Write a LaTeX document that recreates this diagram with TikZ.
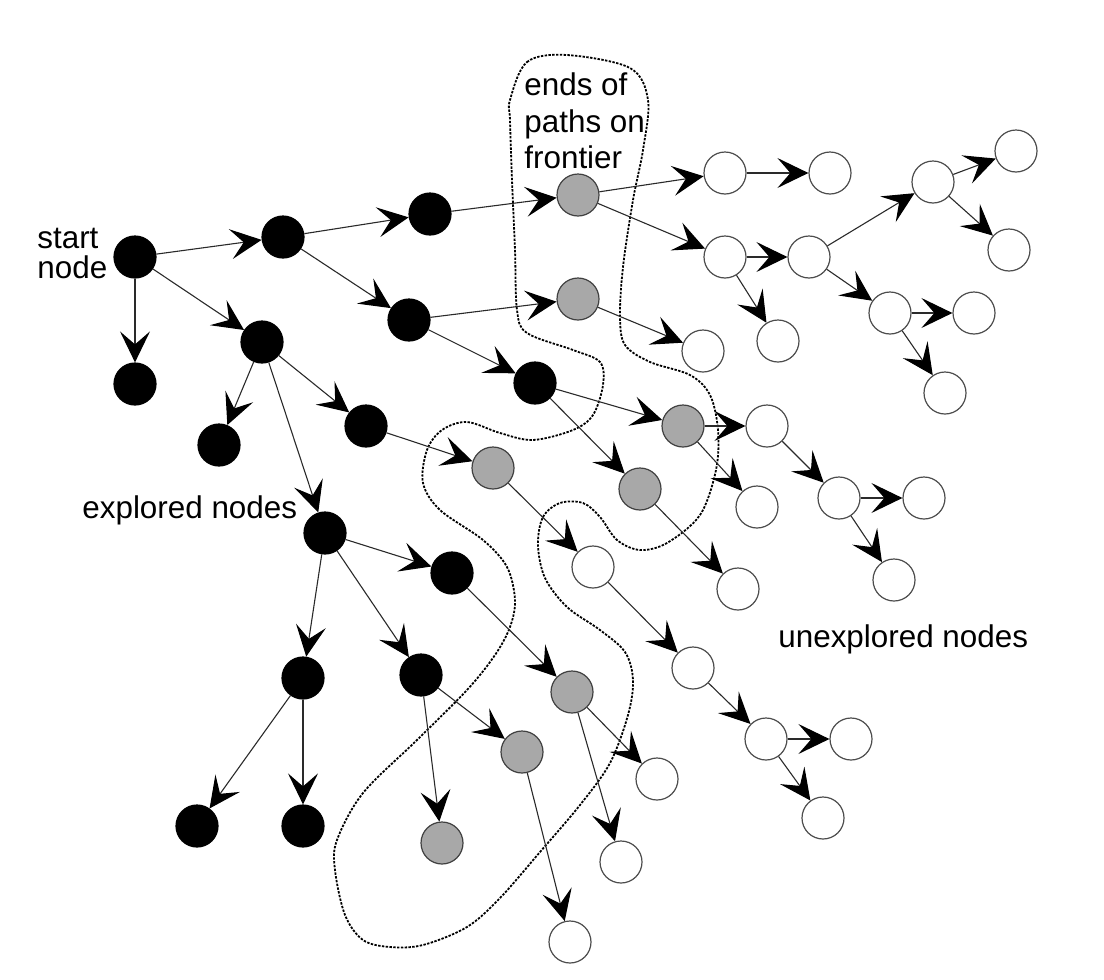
\documentclass[tikz,border=0pt]{standalone}
\usepackage{fontspec}
\setmainfont{Liberation Sans}
\usetikzlibrary{arrows.meta}
\definecolor{frontgray}{HTML}{A8A8A8}
\definecolor{edgecol}{HTML}{2A2A2A}
\tikzset{
  base node/.style={circle, minimum size=21pt, inner sep=0pt, line width=0.6pt},
  expl/.style={base node, draw=black, fill=black},
  front/.style={base node, draw=black!75, fill=frontgray},
  unexp/.style={base node, draw=black!70, fill=white},
  link/.style={draw=edgecol, line width=0.55pt, -{Stealth[length=15.5pt, width=15pt, inset=6.5pt, color=black]}},
  lbl/.style={anchor=base west, inner sep=0pt, font=\fontsize{15.7}{18}\selectfont},
  frontier line/.style={draw=black, line width=0.9pt, dash pattern=on 1.2pt off 0.7pt}
}
\begin{document}
\begin{tikzpicture}[x=0.5pt,y=-0.5pt]
\useasboundingbox (0,0) rectangle (1104,980);

% frontier outline
\draw[frontier line] plot[smooth cycle, tension=0.55] coordinates {
 (510,100) (527,62) (567,55) (630,68) (648,100) (643,150) (633,200) (623,267)
 (620,317) (625,345) (650,362) (690,375) (710,395) (718,430) (716,470) (700,515)
 (667,543) (640,550) (617,540) (600,517) (583,503) (560,503) (543,517) (538,545)
 (545,578) (567,607) (600,630) (625,652) (633,680) (628,715) (610,763) (580,805)
 (540,852) (500,898) (467,927) (423,945) (390,947) (363,940) (345,915) (335,870)
 (337,840) (363,793) (417,740) (467,690) (495,655) (510,627) (515,600) (507,567)
 (483,540) (440,510) (423,483) (427,450) (442,430) (467,422) (500,433) (533,440)
 (573,430) (593,415) (603,385) (600,362) (573,350) (527,333) (517,310) (515,250)
 (512,180) (510,120)};

% explored nodes
\node[expl] (S) at (135,257) {};
\node[expl] (A) at (283,237) {};
\node[expl] (B) at (135,384) {};
\node[expl] (C) at (262,342) {};
\node[expl] (D) at (430,214) {};
\node[expl] (E) at (409,320) {};
\node[expl] (F) at (535,383) {};
\node[expl] (G) at (219,445) {};
\node[expl] (H) at (366,426) {};
\node[expl] (I) at (325,533) {};
\node[expl] (J) at (452,573) {};
\node[expl] (K) at (303,678) {};
\node[expl] (L) at (421,675) {};
\node[expl] (M) at (197,826) {};
\node[expl] (N) at (303,826) {};

% frontier nodes
\node[front] (G1) at (578,195) {};
\node[front] (G2) at (578,299) {};
\node[front] (G3) at (683,426) {};
\node[front] (G4) at (493,468) {};
\node[front] (G5) at (640,489) {};
\node[front] (G6) at (572,692) {};
\node[front] (G7) at (522,752) {};
\node[front] (G8) at (442,843) {};

% unexplored nodes
\node[unexp] (W1) at (725,173) {};
\node[unexp] (W2) at (830,173) {};
\node[unexp] (W3) at (725,257) {};
\node[unexp] (W4) at (809,257) {};
\node[unexp] (W5) at (933,182) {};
\node[unexp] (W6) at (1016,151) {};
\node[unexp] (W7) at (1009,250) {};
\node[unexp] (W8) at (890,313) {};
\node[unexp] (W9) at (974,313) {};
\node[unexp] (W10) at (945,393) {};
\node[unexp] (W11) at (778,341) {};
\node[unexp] (W12) at (703,351) {};
\node[unexp] (W13) at (767,426) {};
\node[unexp] (W14) at (757,507) {};
\node[unexp] (W15) at (839,498) {};
\node[unexp] (W16) at (924,498) {};
\node[unexp] (W17) at (894,580) {};
\node[unexp] (W18) at (593,567) {};
\node[unexp] (W19) at (738,589) {};
\node[unexp] (W20) at (693,668) {};
\node[unexp] (W21) at (766,739) {};
\node[unexp] (W22) at (851,739) {};
\node[unexp] (W23) at (823,818) {};
\node[unexp] (W24) at (657,779) {};
\node[unexp] (W25) at (621,862) {};
\node[unexp] (W26) at (570,942) {};

% edges
\foreach \a/\b in {S/A, S/B, S/C, A/D, A/E, D/G1, E/G2, E/F, F/G3, F/G5,
  C/G, C/H, C/I, H/G4, I/J, I/K, I/L, J/G6, K/M, K/N, L/G8, L/G7,
  G1/W1, G1/W3, W1/W2, W3/W4, W3/W11, W4/W5, W4/W8, W5/W6, W5/W7,
  W8/W9, W8/W10, G2/W12, G3/W13, G3/W14, W13/W15, W15/W16, W15/W17,
  G4/W18, W18/W20, W20/W21, W21/W22, W21/W23, G5/W19, G6/W24, G6/W25, G7/W26}
  \draw[link] (\a) -- (\b);

% labels
\node[lbl] (t1) at (37,248) {start};
\node[lbl] (t2) at (37,278) {node};
\node[lbl] (t3) at (524,95) {ends of};
\node[lbl] (t4) at (524,132) {paths on};
\node[lbl] (t5) at (524,168) {frontier};
\node[lbl] (t6) at (82,518) {explored nodes};
\node[lbl] (t7) at (778,647) {unexplored nodes};
\end{tikzpicture}
\end{document}
